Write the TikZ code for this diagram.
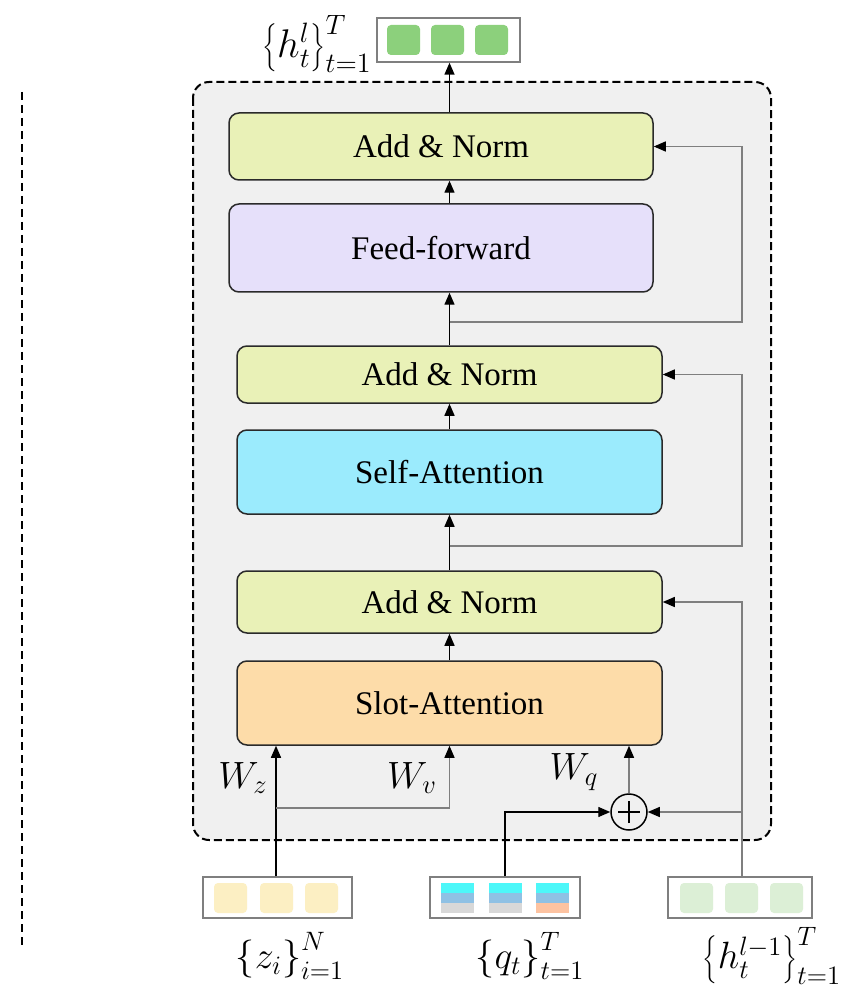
\documentclass[tikz,border=0pt]{standalone}
\usepackage{fix-cm}
\usepackage{fontspec}
\setmainfont{Liberation Serif}
\usetikzlibrary{arrows.meta}
\definecolor{bgc}{HTML}{F0F0F0}
\definecolor{anc}{HTML}{E9F1B7}
\definecolor{ffc}{HTML}{E6E0FA}
\definecolor{sac}{HTML}{9BEBFD}
\definecolor{slc}{HTML}{FDDCA9}
\definecolor{gsq}{HTML}{8CD07C}
\definecolor{zsq}{HTML}{FCEFC3}
\definecolor{hsq}{HTML}{DCEFD6}
\definecolor{qcy}{HTML}{4DF7F9}
\definecolor{qbl}{HTML}{8FC1E4}
\definecolor{qgr}{HTML}{D8D8D8}
\definecolor{qor}{HTML}{FDC3A1}
\definecolor{edge}{HTML}{2A2A2A}
\definecolor{resc}{HTML}{7F7F7F}
\begin{document}
\begin{tikzpicture}[x=0.5pt,y=-0.5pt,
  blk/.style={draw=edge, line width=0.75pt, rounded corners=5pt, inner sep=0pt,
    font=\fontsize{16.5}{20}\selectfont},
  vec/.style={draw=resc, line width=0.7pt, fill=white, inner sep=0pt, minimum height=20.5pt},
  arr/.style={-{Triangle[length=6pt,width=5pt,color=black]}, line width=0.7pt, draw=black},
  res/.style={-{Triangle[length=6pt,width=5pt,color=black]}, line width=0.6pt, draw=resc},
  sq/.style={rounded corners=2pt},
  mlab/.style={inner sep=0pt, font=\fontsize{19}{22}\selectfont}
]
\useasboundingbox (0,0) rectangle (848,989);

% left dashed line
\draw[line width=0.9pt, dash pattern=on 4pt off 2.5pt] (22,92) -- (22,945);

% outer container
\draw[line width=1pt, dash pattern=on 4pt off 2pt, fill=bgc, rounded corners=8pt]
  (193,82) rectangle (771,840);

% blocks
\node[blk, fill=anc, minimum width=212pt, minimum height=33.5pt] (an1) at (441,146.5) {Add \& Norm};
\node[blk, fill=ffc, minimum width=212pt, minimum height=44pt] (ff) at (441,248) {Feed-forward};
\node[blk, fill=anc, minimum width=212.5pt, minimum height=28.5pt] (an2) at (449.5,374.5) {Add \& Norm};
\node[blk, fill=sac, minimum width=212.5pt, minimum height=42pt] (sa) at (449.5,472) {Self-Attention};
\node[blk, fill=anc, minimum width=212.5pt, minimum height=31pt] (an3) at (449.5,602) {Add \& Norm};
\node[blk, fill=slc, minimum width=212.5pt, minimum height=42pt] (slot) at (449.5,703) {Slot-Attention};

% output vector
\node[vec, minimum width=71.5pt, minimum height=22pt] (out) at (448.5,40) {};
\foreach \x in {387,431,475} \fill[gsq, sq] (\x,25) rectangle ++(33,30);
\node[mlab, anchor=east, font=\fontsize{20}{24}\selectfont] (outlab) at (372,44) {$\left\{h_t^l\right\}_{t=1}^{T}$};

% input vectors
\node[vec, minimum width=74.5pt] (zbox) at (277.5,897.5) {};
\node[vec, minimum width=75pt] (qbox) at (505,897.5) {};
\node[vec, minimum width=72pt] (hbox) at (740,897.5) {};
\foreach \x in {214,260,305} \fill[zsq, sq] (\x,883) rectangle ++(33,30);
\foreach \x in {680,725,770} \fill[hsq, sq] (\x,883) rectangle ++(33,30);
\foreach \x in {441,489,536} {
  \fill[qcy] (\x,883) rectangle ++(33,10);
  \fill[qbl] (\x,893) rectangle ++(33,10);
}
\fill[qgr] (441,903) rectangle ++(33,10);
\fill[qgr] (489,903) rectangle ++(33,10);
\fill[qor] (536,903) rectangle ++(33,10);

\node[mlab] (zlab) at (290,956) {$\left\{z_i\right\}_{i=1}^{N}$};
\node[mlab] (qlab) at (530,956) {$\left\{q_t\right\}_{t=1}^{T}$};
\node[mlab] (hlab) at (772,956) {$\left\{h_t^{l-1}\right\}_{t=1}^{T}$};

% plus node
\node[circle, draw=black, line width=0.75pt, minimum size=18pt, inner sep=0pt] (plus) at (629,812) {};
\draw[line width=0.6pt] ([xshift=-5.5pt]plus.center) -- ([xshift=5.5pt]plus.center);
\draw[line width=0.6pt] ([yshift=-5.5pt]plus.center) -- ([yshift=5.5pt]plus.center);

% W labels
\node[mlab] (wz) at (243,778) {$W_z$};
\node[mlab] (wv) at (412,778) {$W_v$};
\node[mlab] (wq) at (574,772) {$W_q$};

% main vertical flow
\draw[arr] (an1.north -| an2.north) -- (out.south -| an2.north);
\draw[arr] (ff.north -| an2.north) -- (an1.south -| an2.north);
\draw[arr] (an2.north) -- (an2.north |- ff.south);
\draw[arr] (sa.north) -- (an2.south);
\draw[arr] (an3.north) -- (sa.south);
\draw[arr] (slot.north) -- (an3.south);

% residual branches
\coordinate (b1) at (449.5,322);
\coordinate (b2) at (449.5,546);
\coordinate (rx) at (742,0);
\draw[res] (b1) -- (b1 -| rx) |- (an1.east);
\draw[res] (b2) -- (b2 -| rx) |- (an2.east);
\draw[res] (hbox.north -| rx) |- (an3.east);
\coordinate (b4) at (742,812);
\draw[res] (b4) -- (plus.east);

% slot attention inputs
\draw[arr] (zbox.north -| 276,0) -- (slot.south -| 276,0);
\coordinate (b3) at (276,808);
\draw[res] (b3) -| (slot.south);
\draw[arr] (qbox.north) |- (plus.west);
\draw[res] (plus.north) -- (plus.north |- slot.south);
\end{tikzpicture}
\end{document}
